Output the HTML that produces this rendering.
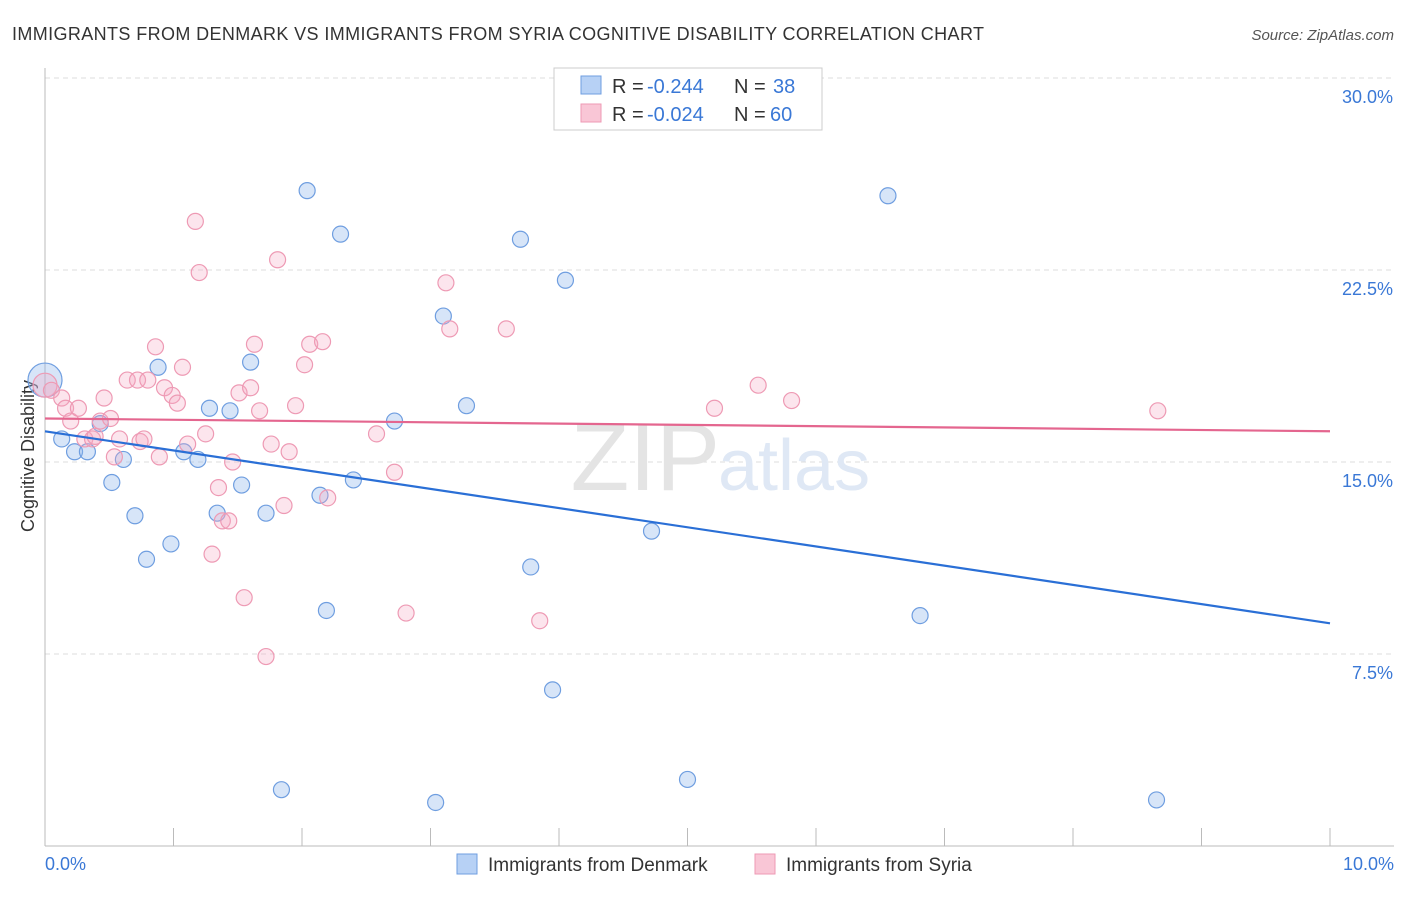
<!DOCTYPE html>
<html><head><meta charset="utf-8"><style>
body{margin:0;background:#fff;font-family:"Liberation Sans",sans-serif;}
svg text{font-family:"Liberation Sans",sans-serif;}
</style></head><body>
<svg width="1406" height="892">
<text x="12" y="40" font-size="18" fill="#333" textLength="972">IMMIGRANTS FROM DENMARK VS IMMIGRANTS FROM SYRIA COGNITIVE DISABILITY CORRELATION CHART</text>
<text x="1394" y="40" font-size="15" fill="#555" font-style="italic" text-anchor="end">Source: ZipAtlas.com</text>
<g id="grid"></g>
<line x1="45" y1="68" x2="45" y2="846" stroke="#bbb"/>
<line x1="45" y1="846" x2="1394" y2="846" stroke="#bbb"/>
<text x="720" y="490" font-size="96" fill="#e4e4e4" text-anchor="end" font-family="Liberation Serif">ZIP</text>
<text x="718" y="490" font-size="72" fill="#dfe8f5">atlas</text>
<text transform="translate(34,456) rotate(-90)" font-size="18" fill="#333" text-anchor="middle">Cognitive Disability</text>
<text x="45" y="870" font-size="18" fill="#3a78d6">0.0%</text>
<text x="1394" y="870" font-size="18" fill="#3a78d6" text-anchor="end">10.0%</text>
<g id="pts"></g>
<g id="lines"></g>
<g>
<rect x="554" y="68" width="268" height="62" fill="#fff" stroke="#ccc"/>
<rect x="581" y="76" width="20" height="18" fill="#b7d1f5" stroke="#6f9ee0"/>
<rect x="581" y="104" width="20" height="18" fill="#f9c6d6" stroke="#ee9ab4"/>
<text x="612" y="93" font-size="20" fill="#333">R =</text>
<text x="647" y="93" font-size="20" fill="#3a78d6">-0.244</text>
<text x="734" y="93" font-size="20" fill="#333">N =</text>
<text x="773" y="93" font-size="20" fill="#3a78d6">38</text>
<text x="612" y="121" font-size="20" fill="#333">R =</text>
<text x="647" y="121" font-size="20" fill="#3a78d6">-0.024</text>
<text x="734" y="121" font-size="20" fill="#333">N =</text>
<text x="770" y="121" font-size="20" fill="#3a78d6">60</text>
</g>
<g>
<rect x="457" y="854" width="20" height="20" fill="#b7d1f5" stroke="#6f9ee0"/>
<text x="488" y="871" font-size="19" fill="#333">Immigrants from Denmark</text>
<rect x="755" y="854" width="20" height="20" fill="#f9c6d6" stroke="#ee9ab4"/>
<text x="786" y="871" font-size="19" fill="#333">Immigrants from Syria</text>
</g>
</svg>
<script>
const yTicks=[7.5,15,22.5,30];
const xTicks=[0,1,2,3,4,5,6,7,8,9,10];
const denX=[0,0.13,0.23,0.33,0.43,0.52,0.61,0.7,0.79,0.88,0.98,1.08,1.19,1.28,1.34,1.44,1.53,1.6,1.72,1.84,2.04,2.14,2.19,2.3,2.4,2.72,3.04,3.1,3.28,3.7,3.78,3.95,4.05,4.72,5.0,6.56,6.81,8.65];
const denY=[18.2,15.9,15.4,15.4,16.5,14.2,15.1,12.9,11.2,18.7,11.8,15.4,15.1,17.1,13.0,17.0,14.1,18.9,13.0,2.2,25.6,13.7,9.2,23.9,14.3,16.6,1.7,20.7,17.2,23.7,10.9,6.1,22.1,12.3,2.6,25.4,9.0,1.8];
const syrX=[0,0.05,0.13,0.16,0.20,0.26,0.31,0.37,0.39,0.43,0.46,0.51,0.54,0.58,0.64,0.72,0.74,0.77,0.80,0.86,0.89,0.93,0.99,1.03,1.07,1.11,1.17,1.20,1.25,1.30,1.35,1.38,1.43,1.46,1.51,1.55,1.60,1.63,1.67,1.72,1.76,1.81,1.86,1.90,1.95,2.02,2.06,2.16,2.20,2.58,2.72,2.81,3.12,3.15,3.59,3.85,5.21,5.55,5.81,8.66];
const syrY=[18.0,17.8,17.5,17.1,16.6,17.1,15.9,15.9,16.0,16.6,17.5,16.7,15.2,15.9,18.2,18.2,15.8,15.9,18.2,19.5,15.2,17.9,17.6,17.3,18.7,15.7,24.4,22.4,16.1,11.4,14.0,12.7,12.7,15.0,17.7,9.7,17.9,19.6,17.0,7.4,15.7,22.9,13.3,15.4,17.2,18.8,19.6,19.7,13.6,16.1,14.6,9.1,22.0,20.2,20.2,8.8,17.1,18.0,17.4,17.0];
const lineDen=[16.2,8.7];
const lineSyr=[16.7,16.2];
const X=v=>45+v/10*1285, Y=v=>846-v/30*768;
const NS="http://www.w3.org/2000/svg";
const grid=document.getElementById('grid');
yTicks.forEach(t=>{
 const l=document.createElementNS(NS,'line');
 
 
 l.setAttribute('x1',45);l.setAttribute('x2',1394);l.setAttribute('y1',Y(t));l.setAttribute('y2',Y(t));
 l.setAttribute('stroke','#ddd');l.setAttribute('stroke-dasharray','5,4');grid.appendChild(l);
 const tx=document.createElementNS(NS,'text');
 
 
 tx.setAttribute('x',1393);tx.setAttribute('y',Y(t)+25);tx.setAttribute('text-anchor','end');
 tx.setAttribute('font-size','18');tx.setAttribute('fill','#3a78d6');tx.textContent=t.toFixed(1)+'%';grid.appendChild(tx);
});
xTicks.forEach(t=>{
 const l=document.createElementNS(NS,'line');
 
 
 l.setAttribute('x1',X(t));l.setAttribute('x2',X(t));l.setAttribute('y1',828);l.setAttribute('y2',846);
 l.setAttribute('stroke','#bbb');grid.appendChild(l);
});
const pts=document.getElementById('pts');
function dot(x,y,r,f,s,name){
 const c=document.createElementNS(NS,'circle');
 
 
 c.setAttribute('cx',X(x));c.setAttribute('cy',Y(y));c.setAttribute('r',r);
 c.setAttribute('fill',f);c.setAttribute('stroke',s);c.setAttribute('stroke-width','1.2');pts.appendChild(c);
}
denX.forEach((x,i)=>dot(x,denY[i],i==0?17:8,'rgba(140,180,235,0.35)','#6f9ee0','denmark-point'));
syrX.forEach((x,i)=>dot(x,syrY[i],i==0?12:8,'rgba(245,170,195,0.3)','#ee9ab4','syria-point'));
const lines=document.getElementById('lines');
[[lineDen,'#2a6fd6','denmark-trend-line'],[lineSyr,'#e4668f','syria-trend-line']].forEach(([v,c,n])=>{
 const l=document.createElementNS(NS,'line');
 
 
 l.setAttribute('x1',X(0));l.setAttribute('x2',X(10));l.setAttribute('y1',Y(v[0]));l.setAttribute('y2',Y(v[1]));
 l.setAttribute('stroke',c);l.setAttribute('stroke-width','2.2');lines.appendChild(l);
});
</script>
</body></html>
